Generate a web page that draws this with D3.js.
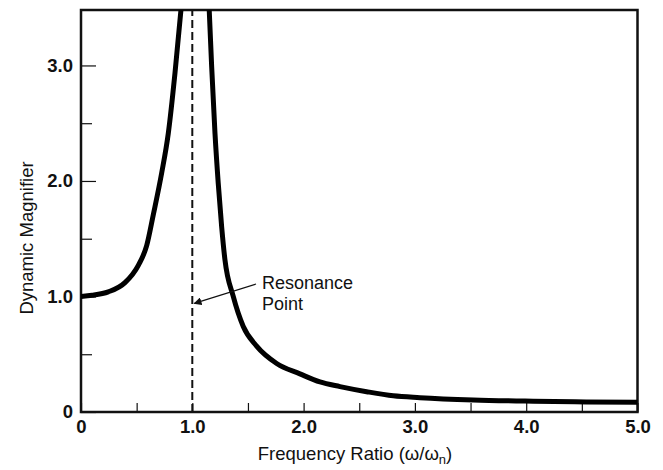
<!DOCTYPE html>
<html>
<head>
<meta charset="utf-8">
<script src="https://cdn.jsdelivr.net/npm/d3@7"></script>
<style>
  html, body { margin: 0; padding: 0; background: #fff; }
  svg { display: block; font-family: "Liberation Sans", Arial, Helvetica, sans-serif; }
</style>
</head>
<body>
<svg id="chart" width="663" height="470"></svg>
<script>
// Frequency ratio (ω/ωn) and dynamic magnifier, below resonance
const ratioBelow = [0.0, 0.10, 0.245, 0.395, 0.515, 0.59, 0.65, 0.725, 0.784, 0.844, 0.898];
const magBelow   = [1.0, 1.01, 1.04, 1.12, 1.27, 1.44, 1.71, 2.07, 2.41, 2.93, 3.48];

// ... and above resonance
const ratioAbove = [1.152, 1.174, 1.204, 1.233, 1.264, 1.293, 1.368, 1.458, 1.578, 1.758, 1.967,
                    2.147, 2.327, 2.566, 2.806, 3.045, 3.524, 4.063, 4.54, 5.0];
const magAbove   = [3.48, 2.99, 2.41, 1.98, 1.60, 1.32, 1.00, 0.74, 0.57, 0.42, 0.33,
                    0.26, 0.22, 0.176, 0.14, 0.124, 0.104, 0.093, 0.087, 0.084];

const resonanceRatio = 1.0;
const xMajorTicks = [0, 1, 2, 3, 4, 5];
const xAllTicks = [0, 0.5, 1, 1.5, 2, 2.5, 3, 3.5, 4, 4.5, 5];
const yMajorTicks = [0, 1, 2, 3];
const yMinorTicks = [0.5, 1.5, 2.5];
const xTitle = "Frequency Ratio (ω/ω";
const xTitleSub = "n";
const yTitle = "Dynamic Magnifier";
const noteLines = ["Resonance", "Point"];
const notePoint = [1.0, 0.94];

const svg = d3.select("#chart");
const x = d3.scaleLinear().domain([0, 5]).range([81, 637.5]);
const y = d3.scaleLinear().domain([0, 3.48]).range([412, 10]);

const fmt = v => v === 0 ? "0" : d3.format(".1f")(v);
const tickFont = "Liberation Sans, Arial, sans-serif";

// x axis: inward ticks every 0.5, labels on whole numbers
const gx = svg.append("g")
  .attr("transform", `translate(0,${y(0)})`)
  .call(d3.axisBottom(x).tickValues(xAllTicks).tickSize(-9).tickPadding(8)
    .tickFormat(v => xMajorTicks.includes(v) ? fmt(v) : ""));
gx.select(".domain").remove();
gx.selectAll("line").attr("stroke", "#111").attr("stroke-width", 1.2);
gx.selectAll("text").attr("fill", "#111").attr("font-size", 18.5).attr("font-weight", "bold")
  .attr("font-family", tickFont);

// y axis: major ticks with labels, shorter minor ticks
const gy = svg.append("g")
  .attr("transform", `translate(${x(0)},0)`)
  .call(d3.axisLeft(y).tickValues(yMajorTicks).tickSize(-15).tickPadding(8).tickFormat(fmt));
gy.select(".domain").remove();
gy.selectAll("line").attr("stroke", "#111").attr("stroke-width", 1.2);
gy.selectAll("text").attr("fill", "#111").attr("font-size", 18.5).attr("font-weight", "bold")
  .attr("font-family", tickFont);

const gyMinor = svg.append("g")
  .attr("transform", `translate(${x(0)},0)`)
  .call(d3.axisLeft(y).tickValues(yMinorTicks).tickSize(-11).tickFormat(""));
gyMinor.select(".domain").remove();
gyMinor.selectAll("line").attr("stroke", "#111").attr("stroke-width", 1.2);

// plot frame
svg.append("rect")
  .attr("x", x(0)).attr("y", y(3.48))
  .attr("width", x(5) - x(0)).attr("height", y(0) - y(3.48))
  .attr("fill", "none").attr("stroke", "#111").attr("stroke-width", 2.5);

// clip to the plot area
svg.append("clipPath").attr("id", "plot-clip")
  .append("rect")
  .attr("x", x(0)).attr("y", y(3.48))
  .attr("width", x(5) - x(0)).attr("height", y(0) - y(3.48));

// resonance line
svg.append("line")
  .attr("x1", x(resonanceRatio)).attr("x2", x(resonanceRatio))
  .attr("y1", y(0)).attr("y2", y(3.48))
  .attr("stroke", "#111").attr("stroke-width", 2)
  .attr("stroke-dasharray", "8,4");

// response curve
const line = d3.line()
  .x(d => x(d[0])).y(d => y(d[1]))
  .curve(d3.curveMonotoneX);

const curves = [
  d3.zip(ratioBelow, magBelow),
  d3.zip(ratioAbove, magAbove)
];
svg.append("g").attr("clip-path", "url(#plot-clip)")
  .selectAll("path").data(curves).join("path")
  .attr("d", line)
  .attr("fill", "none").attr("stroke", "#000")
  .attr("stroke-width", 5).attr("stroke-linejoin", "round");

// annotation
svg.append("defs").append("marker")
  .attr("id", "arrowhead").attr("viewBox", "0 0 10 10")
  .attr("refX", 9).attr("refY", 5)
  .attr("markerWidth", 8).attr("markerHeight", 8)
  .attr("markerUnits", "userSpaceOnUse")
  .attr("orient", "auto")
  .append("path").attr("d", "M0,0 L10,5 L0,10 z").attr("fill", "#111");

const noteX = 262;
svg.append("line")
  .attr("x1", noteX - 6).attr("y1", 284)
  .attr("x2", x(notePoint[0]) + 2).attr("y2", y(notePoint[1]))
  .attr("stroke", "#111").attr("stroke-width", 1.3)
  .attr("marker-end", "url(#arrowhead)");

svg.append("g").selectAll("text").data(noteLines).join("text")
  .attr("x", noteX).attr("y", (d, i) => 289 + i * 21)
  .attr("font-size", 18).attr("fill", "#111")
  .text(d => d);

// axis titles
const xt = svg.append("text")
  .attr("x", 355).attr("y", 460)
  .attr("text-anchor", "middle")
  .attr("font-size", 18.5).attr("fill", "#111");
xt.append("tspan").text(xTitle);
xt.append("tspan").attr("font-size", 13).attr("dy", 4).text(xTitleSub);
xt.append("tspan").attr("dy", -4).text(")");

svg.append("text")
  .attr("transform", `translate(33,238) rotate(-90)`)
  .attr("text-anchor", "middle")
  .attr("font-size", 18.5).attr("fill", "#111")
  .text(yTitle);
</script>
</body>
</html>
